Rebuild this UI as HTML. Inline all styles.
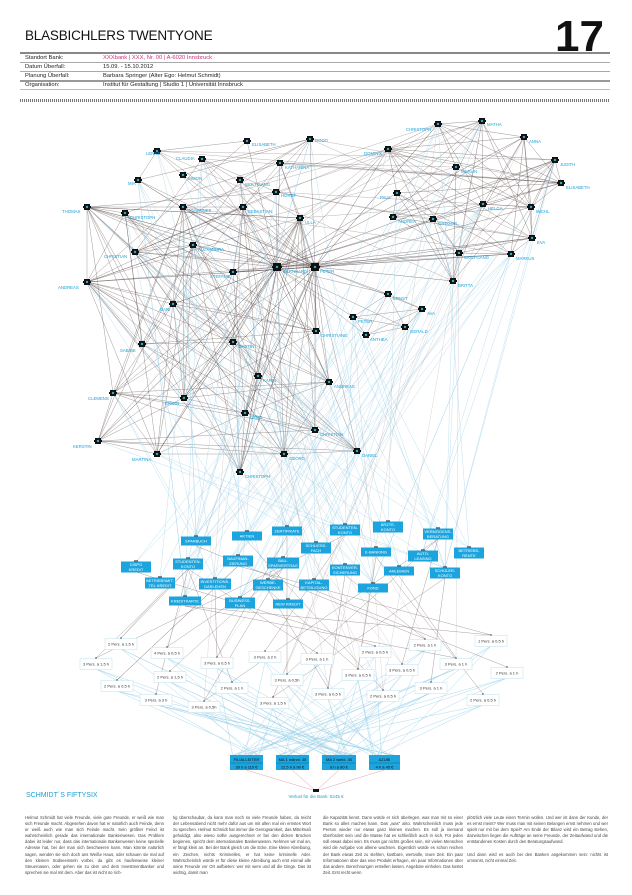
<!DOCTYPE html>
<html><head><meta charset="utf-8">
<style>
html,body{margin:0;padding:0;background:#fff;}
body{width:632px;height:895px;overflow:hidden;position:relative;font-family:"Liberation Sans","DejaVu Sans",sans-serif;}
.t{position:absolute;color:#222;}
.col{position:absolute;top:815px;font-size:4.2px;line-height:6.1px;color:#444;text-align:justify;}
</style></head><body>
<div class="t" style="left:25px;top:28px;font-size:13.5px;letter-spacing:-0.2px;color:#111;">BLASBICHLERS TWENTYONE</div>
<div class="t" style="left:555px;top:12px;font-size:44px;font-weight:bold;color:#111;">17</div>
<div style="position:absolute;left:20px;top:52px;width:590px;height:1.5px;background:#888"></div>
<div style="position:absolute;left:20px;top:62px;width:590px;height:1px;background:#aaa"></div>
<div style="position:absolute;left:20px;top:71px;width:590px;height:1px;background:#aaa"></div>
<div style="position:absolute;left:20px;top:80px;width:590px;height:1.5px;background:#999"></div>
<div style="position:absolute;left:20px;top:89px;width:590px;height:1px;background:#bbb"></div>
<div style="position:absolute;left:20px;top:99px;width:590px;height:3px;background:repeating-linear-gradient(90deg,#777 0 1px,#fff 1px 2px)"></div>
<div class="t" style="left:25px;top:55px;font-size:5.8px;">Standort Bank:</div>
<div class="t" style="left:103px;top:55px;font-size:5.8px;color:#d0307a;">XXXbank | XXX, Nr. 00 | A-6020 Innsbruck</div>
<div class="t" style="left:25px;top:64px;font-size:5.8px;">Datum Überfall:</div>
<div class="t" style="left:103px;top:64px;font-size:5.8px;">15.09. - 15.10.2012</div>
<div class="t" style="left:25px;top:73px;font-size:5.8px;">Planung Überfall:</div>
<div class="t" style="left:103px;top:73px;font-size:5.8px;">Barbara Springer (Alter Ego: Helmut Schmidt)</div>
<div class="t" style="left:25px;top:82px;font-size:5.8px;">Organisation:</div>
<div class="t" style="left:103px;top:82px;font-size:5.8px;">Institut für Gestaltung | Studio 1 | Universität Innsbruck</div>

<svg id="g" width="632" height="895" style="position:absolute;left:0;top:0" xmlns="http://www.w3.org/2000/svg" font-family="Liberation Sans, sans-serif">
<g id="edges"></g>
<g id="nodes"></g>
<g font-size="4.3" fill="#1aa0d8">
<text x="146" y="155">LENNE</text><text x="128" y="185">MIA</text><text x="176" y="160">CLAUDIA</text><text x="188" y="180">SIMON</text>
<text x="252" y="146">ELISABETH</text><text x="315" y="142">DODO</text><text x="285" y="169">KATHARINA</text><text x="245" y="186">WOLFGANG</text>
<text x="281" y="197">HORST</text><text x="62" y="213">THOMAS</text><text x="130" y="219">CHRISTOPH</text><text x="188" y="212">JOHANNES</text>
<text x="248" y="213">SEBASTIAN</text><text x="305" y="224">ULLA</text><text x="198" y="251">ALEXANDRA</text><text x="104" y="258">CHRISTIAN</text>
<text x="210" y="278">STEFANIE</text><text x="283" y="273">BERNHARD</text><text x="320" y="273">PETER</text><text x="58" y="289">ANDREAS</text>
<text x="406" y="131">CHRISTOPH</text><text x="487" y="126">MATHA</text><text x="364" y="155">DOMINIK</text><text x="529" y="143">ANNA</text>
<text x="560" y="166">JUDITH</text><text x="461" y="173">MARLIN</text><text x="566" y="189">ELISABETH</text><text x="380" y="199">PAUL</text>
<text x="488" y="210">HELGA</text><text x="536" y="213">MICHL</text><text x="398" y="223">ANDREA</text><text x="438" y="225">GREGOR</text>
<text x="537" y="244">EVA</text><text x="464" y="259">WOLFGANG</text><text x="516" y="260">MARKUS</text><text x="458" y="287">BRITTA</text>
<text x="393" y="300">ERNST</text><text x="427" y="315">AVA</text><text x="358" y="323">PETER</text><text x="410" y="333">GERALD</text>
<text x="370" y="341">ANTHEA</text><text x="321" y="337">CHRISTIANE</text><text x="160" y="311">DANI</text><text x="120" y="352">SABINE</text>
<text x="238" y="348">MARTIN</text><text x="263" y="382">KARIN</text><text x="334" y="388">ANDREAS</text><text x="88" y="400">CLEMENS</text>
<text x="165" y="405">ERWIN</text><text x="250" y="419">GERD</text><text x="320" y="436">CHRISTIAN</text><text x="73" y="448">KERSTIN</text>
<text x="132" y="461">MARTINA</text><text x="289" y="460">GEORG</text><text x="362" y="457">DANIEL</text><text x="245" y="478">CHRISTOPH</text>
</g>
<g id="prod" font-size="4" fill="#fff" text-anchor="middle"></g>
<g id="hours" font-size="4" fill="#333" text-anchor="middle"></g>
<g font-size="4" fill="#111" text-anchor="middle">
<rect x="230" y="755" width="33" height="15" fill="#1ba4dd"/><line x1="230" y1="763" x2="263" y2="763" stroke="#0d6f99" stroke-width="0.5"/>
<text x="246.5" y="761">FILIALLEITER</text><text x="246.5" y="768.5">30 h à 110 €</text>
<rect x="276" y="755" width="33" height="15" fill="#1ba4dd"/><line x1="276" y1="763" x2="309" y2="763" stroke="#0d6f99" stroke-width="0.5"/>
<text x="292.5" y="761">MA 1 männl. 45</text><text x="292.5" y="768.5">12,5 h à 90 €</text>
<rect x="322" y="755" width="34" height="15" fill="#1ba4dd"/><line x1="322" y1="763" x2="356" y2="763" stroke="#0d6f99" stroke-width="0.5"/>
<text x="339" y="761">MA 2 weibl. 30</text><text x="339" y="768.5">8 h à 80 €</text>
<rect x="369" y="755" width="31" height="15" fill="#1ba4dd"/><line x1="369" y1="763" x2="400" y2="763" stroke="#0d6f99" stroke-width="0.5"/>
<text x="384.5" y="761">AZUBI</text><text x="384.5" y="768.5">4 h à 45 €</text>
</g>
<g stroke="#e0a0a8" stroke-width="0.5"><line x1="246" y1="770" x2="316" y2="791"/><line x1="292" y1="770" x2="316" y2="791"/><line x1="339" y1="770" x2="316" y2="791"/><line x1="384" y1="770" x2="316" y2="791"/></g>
<rect x="313" y="789" width="6" height="3" fill="#111"/>
<text x="316" y="798" font-size="4.5" fill="#1aa0d8" text-anchor="middle">Verlust für die Bank: 5245 €</text>
<text x="26" y="797" font-size="7" fill="#1aa0d8">SCHMIDT´S FIFTYSIX</text>
</svg>

<div class="col" style="left:25px;width:139px;">Helmut Schmidt hat viele Freunde, viele gute Freunde, er weiß wie man sich Freunde macht. Abgesehen davon hat er natürlich auch Feinde, denn er weiß auch wie man sich Feinde macht. Sein größter Feind ist wahrscheinlich gerade das internationale Bankenwesen. Das Problem dabei ist leider nur, dass das internationale Bankenwesen keine spezielle Adresse hat, bei der man sich beschweren kann. Man könnte natürlich sagen, wenden sie sich doch ans Weiße Haus, oder schauen sie mal auf den kleinen Südseeinseln vorbei, da gibt es haufenweise kleiner Steueroasen, oder gehen sie zu dem und dem Investmentbanker und sprechen sie mal mit dem. Aber das ist nicht so rich-</div>
<div class="col" style="left:173px;width:138px;">tig überschaubar, da kann man noch so viele Freunde haben, da reicht der Lebensabend nicht mehr dafür aus um mit allen mal ein ernstes Wort zu sprechen. Helmut Schmidt hat immer die Genügsamkeit, das Mittelmaß gehuldigt, also wieso sollte ausgerechnet er bei den dicken Brocken beginnen, spricht dem internationalen Bankenwesen. Nehmen wir mal an, er fängt klein an. Bei der Bank gleich um die Ecke. Eine kleine Abreibung, ein Zeichen, nichts Kriminelles, er hat keine kriminelle Ader. Wahrscheinlich würde er für diese kleine Abreibung auch erst einmal alle seine Freunde vor Ort aufbieten: wer mit wem und all die Dinge. Das ist wichtig, damit man</div>
<div class="col" style="left:323px;width:140px;">die Kapazität kennt. Dann würde er sich überlegen, was man mit so einer Bank so alles machen kann. Das „was" also. Wahrscheinlich muss jede Person wieder nur etwas ganz kleines machen. Es soll ja niemand überfordert sein und die Masse hat es schließlich auch in sich. Für jeden soll etwas dabei sein. Es muss gar nichts großes sein, mit vielen Menschen wird die Aufgabe von alleine wachsen. Eigentlich würde es schon reichen der Bank etwas Zeit zu stehlen, kostbare, wertvolle, teure Zeit. Ein paar Informationen über das eine Produkt erfragen, ein paar Informationen über das andere. Berechnungen erstellen lassen, Angebote einholen. Das kostet Zeit. Erst recht wenn</div>
<div class="col" style="left:467px;width:141px;">plötzlich viele Leute einen Termin wollen. Und wer ist dann der Kunde, der es ernst meint? Wer muss man mit seinen Belangen ernst nehmen und wer spielt nur mit bei dem Spiel? Am Ende der Bilanz wird ein Betrag stehen, dazwischen liegen die Aufträge an seine Freunde, der Zeitaufwand und die entstandenen Kosten durch den Beratungsaufwand.<br><br>Und dann wird es auch bei den Banken angekommen sein: nichts ist umsonst, nicht einmal Zeit.</div>

<script>
(function(){
var NS="http://www.w3.org/2000/svg";
var seed=7;function R(){seed=(seed*16807)%2147483647;return (seed-1)/2147483646;}
function el(p,n,a,t){var e=document.createElementNS(NS,n);for(var k in a)e.setAttribute(k,a[k]);if(t)e.textContent=t;p.appendChild(e);return e;}
var E=document.getElementById("edges"),N=document.getElementById("nodes"),P=document.getElementById("prod"),H=document.getElementById("hours");
var A=[[157,151],[138,180],[202,159],[183,175],[247,141],[310,139],[280,163],[240,180],[276,192],[87,207],[125,213],[183,207],[243,207],[300,218],[193,245],[135,252],[233,272],[277,267],[315,267],[87,282]];
var B=[[438,124],[482,121],[388,149],[524,137],[555,160],[456,167],[561,183],[397,193],[483,204],[531,207],[393,217],[433,219],[532,238],[459,253],[511,254],[453,281]];
var C=[[388,294],[422,309],[353,317],[405,327],[366,335],[316,331],[173,304],[142,344],[233,342],[258,376],[329,382],[113,393],[184,398],[245,413],[315,430],[98,441],[157,454],[284,454],[357,451],[240,472]];
var LC=A.slice(9).concat(C.slice(5));
function line(a,b,c,w,o){el(E,"line",{x1:a[0],y1:a[1],x2:b[0],y2:b[1],stroke:c,"stroke-width":w,"stroke-opacity":o});}
var gray="#5a4a4a";
for(var i=0;i<A.length;i++)for(var j=i+1;j<A.length;j++)if(R()<0.22)line(A[i],A[j],gray,0.4,0.7);
for(i=0;i<B.length;i++)for(j=i+1;j<B.length;j++)if(R()<0.55)line(B[i],B[j],gray,0.4,0.75);
for(i=0;i<LC.length;i++)for(j=i+1;j<LC.length;j++)if(R()<0.45)line(LC[i],LC[j],gray,0.4,0.7);
for(i=0;i<5;i++)for(j=i+1;j<5;j++)line(C[i],C[j],gray,0.4,0.7);
var hubs=[A[17],A[18]];
hubs.forEach(function(h){B.forEach(function(b){if(R()<0.6)line(h,b,gray,0.45,0.75);});A.forEach(function(a){if(R()<0.5)line(h,a,gray,0.4,0.7);});C.forEach(function(c){if(R()<0.6)line(h,c,gray,0.4,0.7);});});
for(i=0;i<25;i++)line(A[Math.floor(R()*A.length)],B[Math.floor(R()*B.length)],gray,0.35,0.6);
var pr=[[196,541,30,"SPARBUCH"],[247,536,30,"AKTIEN"],[287,531,30,"ZERTIFIKATE"],[345,530,30,"STUDENTEN-|KONTO"],[388,527,30,"ÄRZTE-|KONTO"],[438,534,30,"VERMÖGENS-|BERATUNG"],[316,548,30,"SCHLIESS-|FACH"],[376,552,30,"E-BANKING"],[423,556,30,"AUTO-|LEASING"],[469,553,30,"BETRIEBS-|RENTE"],[188,564,30,"STUDENTEN-|KONTO"],[238,561,30,"BAUFINAN-|ZIERUNG"],[283,563,32,"BAU-|SPARVERTRAG"],[136,567,30,"DISPO|KREDIT"],[345,570,30,"KONTENVER-|SICHERUNG"],[399,571,30,"ANLEIHEN"],[445,573,30,"SCHÜLER-|KONTO"],[160,583,30,"BETRIEBSMIT-|TEL KREDIT"],[215,584,32,"INVESTITIONS-|DARLEHEN"],[268,585,30,"WERBE-|GESCHENKE"],[314,585,30,"KAPITAL-|BETEILIGUNG"],[373,588,30,"FOND"],[185,601,32,"KREDITKARTE"],[240,603,30,"BUSINESS-|PLAN"],[288,604,30,"NEW KREDIT"]];
var all=A.concat(B,C);
var blue="#9fd2ea";
for(i=0;i<100;i++){var p=all[Math.floor(R()*all.length)],q=pr[Math.floor(R()*pr.length)];line(p,[q[0],q[1]-5],blue,0.45,0.75);}
var hr=[[121,644,"2 Pers. à 1,5 h"],[167,653,"4 Pers. à 0,5 h"],[96,664,"3 Pers. à 1,5 h"],[217,663,"3 Pers. à 0,5 h"],[265,657,"3 Pers. à 2 h"],[317,659,"3 Pers. à 1 h"],[375,652,"2 Pers. à 0,5 h"],[425,645,"2 Pers. à 1 h"],[491,641,"1 Pers. à 0,5 h"],[170,677,"2 Pers. à 1,5 h"],[117,686,"2 Pers. à 0,5 h"],[232,688,"2 Pers. à 1 h"],[287,680,"3 Pers. à 0,5h"],[358,675,"3 Pers. à 0,5 h"],[402,670,"3 Pers. à 0,5 h"],[456,664,"3 Pers. à 1 h"],[507,673,"2 Pers. à 1 h"],[156,700,"3 Pers. à 3 h"],[204,707,"3 Pers. à 0,5h"],[273,703,"3 Pers. à 1,5 h"],[328,694,"3 Pers. à 0,5 h"],[383,696,"2 Pers. à 0,5 h"],[431,688,"3 Pers. à 1 h"],[483,700,"2 Pers. à 0,5 h"]];
var staff=[[246,755],[292,755],[339,755],[384,755]];
hr.forEach(function(h){for(var k=0;k<3;k++){var s=staff[Math.floor(R()*4)];line([h[0],h[1]+5],[s[0]-14+R()*28,s[1]],blue,0.5,0.85);}});
hr.forEach(function(h,idx){var n=1+(R()<0.5?1:0);for(var k=0;k<n;k++){var q=pr[Math.floor(R()*pr.length)];line([q[0],q[1]+5],[h[0],h[1]-6],"#7a6a6a",0.4,0.8);}});
for(i=0;i<20;i++){var p2=all[Math.floor(R()*all.length)],h2=hr[Math.floor(R()*hr.length)];line(p2,[h2[0],h2[1]-6],"#9a8a8a",0.35,0.5);}
hr.forEach(function(h){el(H,"rect",{x:h[0]-16,y:h[1]-5.5,width:32,height:11,fill:"#fff",stroke:"#c8e4f0","stroke-width":0.6});el(H,"circle",{cx:h[0],cy:h[1]-6,r:0.7,fill:"#333"});el(H,"text",{x:h[0],y:h[1]+1.5},h[2]);});
pr.forEach(function(q){var two=q[3].indexOf("|")>=0,hgt=two?11:9;el(P,"rect",{x:q[0]-q[2]/2,y:q[1]-hgt/2,width:q[2],height:hgt,fill:"#1ba4dd"});
var parts=q[3].split("|");if(two){el(P,"text",{x:q[0],y:q[1]-0.8},parts[0]);el(P,"text",{x:q[0],y:q[1]+4},parts[1]);}else el(P,"text",{x:q[0],y:q[1]+1.5},parts[0]);
el(P,"rect",{x:q[0]-2,y:q[1]-hgt/2-1.2,width:4,height:1.2,fill:"#555"});});
all.forEach(function(p,idx){var big=(p===A[17]||p===A[18]);var s=big?8:6;el(N,"rect",{x:p[0]-s/2,y:p[1]-s/2,width:s,height:s,fill:"#111"});el(N,"rect",{x:p[0]-s/2-1,y:p[1]-1,width:s+2,height:2,fill:"#111"});el(N,"circle",{cx:p[0],cy:p[1],r:1.2,fill:"#2bb0c8"});});
})();
</script>
</body></html>
